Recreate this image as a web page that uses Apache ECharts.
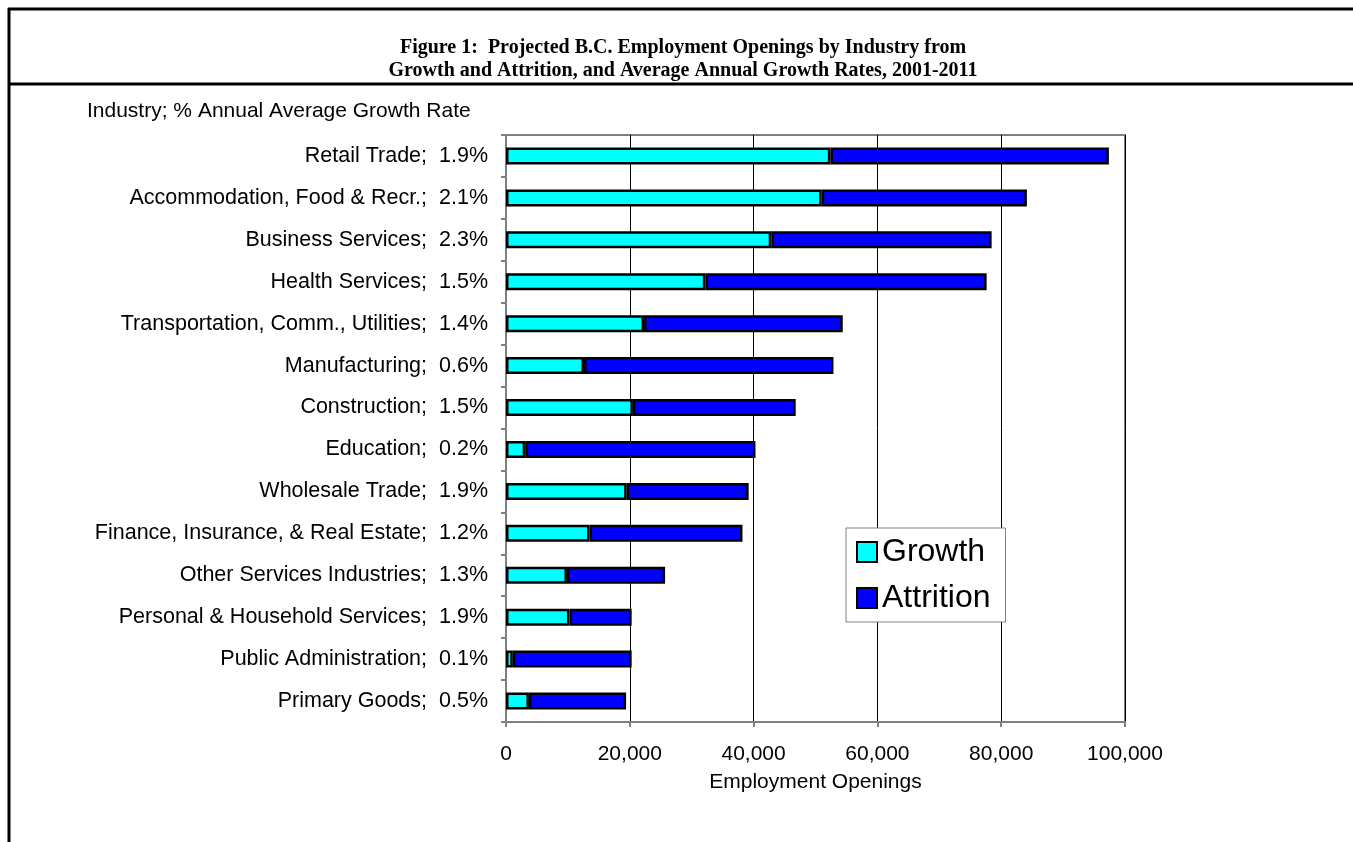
<!DOCTYPE html>
<html>
<head>
<meta charset="utf-8">
<script src="https://cdn.jsdelivr.net/npm/echarts@6/dist/echarts.min.js"></script>
<style>
html,body{margin:0;padding:0;background:#fff;}
#chart{width:1353px;height:842px;}
</style>
</head>
<body>
<div id="chart"></div>
<script>
const industries = ["Retail Trade","Accommodation, Food & Recr.","Business Services","Health Services","Transportation, Comm., Utilities","Manufacturing","Construction","Education","Wholesale Trade","Finance, Insurance, & Real Estate","Other Services Industries","Personal & Household Services","Public Administration","Primary Goods"];
const growthRates = ["1.9%","2.1%","2.3%","1.5%","1.4%","0.6%","1.5%","0.2%","1.9%","1.2%","1.3%","1.9%","0.1%","0.5%"];
const growth = [52400,51000,42850,32200,22300,12600,20500,3100,19500,13500,9850,10250,1100,3700];
const attrition = [45000,33150,35600,45450,32100,40300,26300,37200,19700,24700,15850,10050,19200,15700];
const xTicks = {min:0,max:100000,interval:20000};

const categories = industries.map((n,i)=>n+";  "+growthRates[i]);
const font = "Liberation Sans, Arial, sans-serif";

const chart = echarts.init(document.getElementById('chart'));
chart.setOption({
  animation:false,
  backgroundColor:'#fff',
  title:{
    text:"Figure 1:  Projected B.C. Employment Openings by Industry from\nGrowth and Attrition, and Average Annual Growth Rates, 2001-2011",
    left:678, top:31, textAlign:'center',
    textStyle:{fontFamily:"Liberation Serif, serif",fontWeight:'bold',fontSize:20,lineHeight:23,color:'#000'}
  },
  graphic:[
    {type:'line',shape:{x1:8,y1:9,x2:1353,y2:9},style:{stroke:'#000',lineWidth:3}},
    {type:'line',shape:{x1:8,y1:84,x2:1353,y2:84},style:{stroke:'#000',lineWidth:3}},
    {type:'line',shape:{x1:9,y1:8,x2:9,y2:842},style:{stroke:'#000',lineWidth:3}},
    {type:'text',left:87,top:101,style:{text:"Industry; % Annual Average Growth Rate",font:"21px "+font,fill:'#000'}}
  ],
  legend:{
    orient:'vertical', left:846, top:528,
    data:['Growth','Attrition'],
    backgroundColor:'#fff', borderColor:'#808080', borderWidth:1,
    padding:[6,15,6,10],
    itemWidth:20,itemHeight:20,itemGap:10,itemTextGap:10,
    icon:'rect',
    textStyle:{fontFamily:font,fontSize:32,lineHeight:36,color:'#000'}
  },
  grid:{left:506,right:228,top:135,bottom:120,show:true,borderColor:'#808080',borderWidth:2,containLabel:false},
  xAxis:{
    type:'value',min:xTicks.min,max:xTicks.max,interval:xTicks.interval,
    name:'Employment Openings',nameLocation:'middle',nameGap:50,
    nameTextStyle:{fontFamily:font,fontSize:21,color:'#000'},
    axisLine:{show:true,lineStyle:{color:'#808080',width:2}},
    axisTick:{show:true,length:5,lineStyle:{color:'#808080',width:2}},
    axisLabel:{margin:22,fontFamily:font,fontSize:21,color:'#000',formatter:v=>v.toLocaleString('en-US')},
    splitLine:{show:true,lineStyle:{color:'#000',width:1}}
  },
  yAxis:{
    type:'category',data:categories,inverse:true,
    axisLine:{show:true,lineStyle:{color:'#808080',width:2}},
    axisTick:{show:true,length:5,lineStyle:{color:'#808080',width:2}},
    axisLabel:{margin:18,fontFamily:font,fontSize:21.5,color:'#000'},
    splitLine:{show:false}
  },
  series:[
    {name:'Growth',type:'bar',stack:'t',data:growth,barWidth:17,
     itemStyle:{color:'#00FFFF',borderColor:'#000',borderWidth:2.5}},
    {name:'Attrition',type:'bar',stack:'t',data:attrition,barWidth:17,
     itemStyle:{color:'#0000FF',borderColor:'#000',borderWidth:2.5}}
  ]
});
</script>
</body>
</html>
